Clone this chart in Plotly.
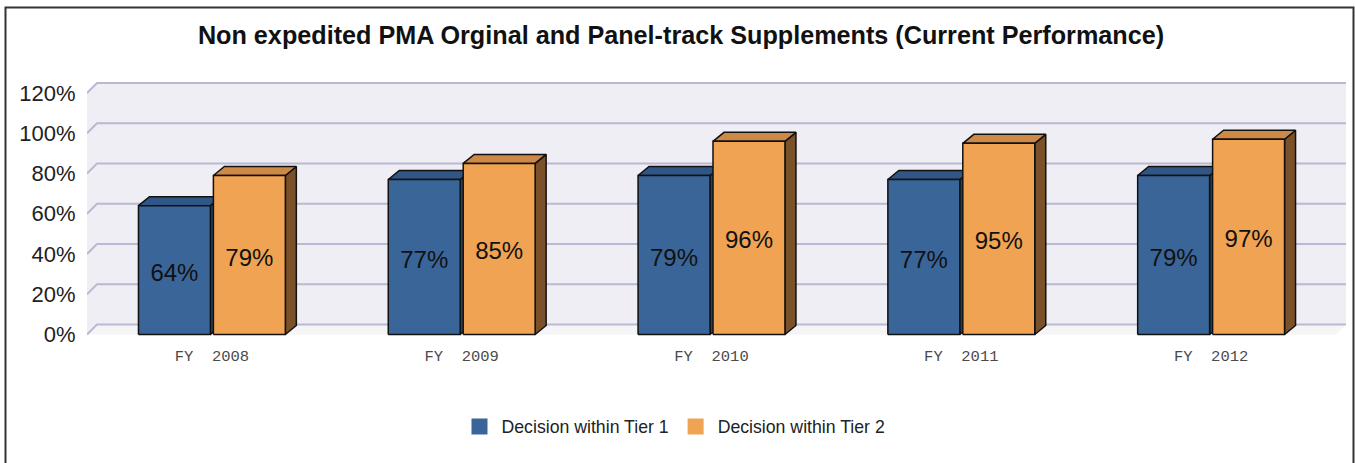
import plotly.graph_objects as go

# ---------------- data ----------------
years = ["FY\u00a0\u00a02008", "FY\u00a0\u00a02009", "FY\u00a0\u00a02010", "FY\u00a0\u00a02011", "FY\u00a0\u00a02012"]
tier1 = [64, 77, 79, 77, 79]
tier2 = [79, 85, 96, 95, 97]
series_names = ["Decision within Tier 1", "Decision within Tier 2"]
y_ticks = [0, 20, 40, 60, 80, 100, 120]
title_text = "Non expedited PMA Orginal and Panel-track Supplements (Current Performance)"

# ---------------- style ----------------
FONT = "Liberation Sans, Arial, sans-serif"
MONO = "Liberation Mono, Courier New, monospace"
colors = {
    0: dict(front="#3A6598", top="#2F5686", side="#24446B"),
    1: dict(front="#F0A352", top="#CD8945", side="#7A5129"),
}
WALL = "#EFEEF4"
FLOOR = "#F5F5F8"
GRID = "#B9B9D1"

# page geometry (px)
W, H = 1355, 463
ML, MR, MT, MB = 87, 9, 80, 127
plot_w = W - ML - MR
plot_h = H - MT - MB

# axes ranges
x_lo, x_hi = -0.5, 4.54
px_per_x = plot_w / (x_hi - x_lo)
px_per_y = 40.25 / 20.0
y_lo = -(1.5) / px_per_y
y_hi = y_lo + plot_h / px_per_y

# 3D depth
wall_dx, wall_dy = 10 / px_per_x, 10 / px_per_y
bar_dx, bar_dy = 11 / px_per_x, 9 / px_per_y
offset, half = 0.15, 0.144
label_shift = 4.5 / px_per_y  # labels sit slightly below bar middle

fig = go.Figure()

def faces(vals, sign):
    front_x, front_y, top_x, top_y, side_x, side_y = [], [], [], [], [], []
    for i, v in enumerate(vals):
        c = i + sign * offset
        xl, xr = c - half, c + half
        front_x += [xl, xr, xr, xl, xl, None]
        front_y += [0, 0, v, v, 0, None]
        top_x += [xl, xr, xr + bar_dx, xl + bar_dx, xl, None]
        top_y += [v, v, v + bar_dy, v + bar_dy, v, None]
        side_x += [xr, xr + bar_dx, xr + bar_dx, xr, xr, None]
        side_y += [0, bar_dy, v + bar_dy, v, 0, None]
    return (front_x, front_y), (top_x, top_y), (side_x, side_y)

for k, (vals, sign) in enumerate([(tier1, -1), (tier2, 1)]):
    (fx, fy), (tx, ty), (sx, sy) = faces(vals, sign)
    col = colors[k]
    for (xx, yy, fc) in [(sx, sy, col["side"]), (tx, ty, col["top"]), (fx, fy, col["front"])]:
        fig.add_trace(go.Scatter(
            x=xx, y=yy, mode="lines", fill="toself", fillcolor=fc,
            line=dict(color="#111111", width=1.5), hoverinfo="skip",
            showlegend=False))

# value labels
for vals, sign in [(tier1, -1), (tier2, 1)]:
    fig.add_trace(go.Scatter(
        x=[i + sign * offset for i in range(len(vals))],
        y=[v / 2 - label_shift for v in vals],
        mode="text", text=[f"{v}%" for v in vals],
        textfont=dict(family=FONT, size=24, color="#111111"),
        hoverinfo="skip", showlegend=False))

# legend entries
for k, name in enumerate(series_names):
    fig.add_trace(go.Scatter(
        x=[None], y=[None], mode="markers", name=name,
        marker=dict(symbol="square", size=16, color=colors[k]["front"],
                    line=dict(width=0))))

shapes = []
# left wall
shapes.append(dict(type="path", xref="x", yref="y", layer="below",
                   path=f"M {x_lo},{0} L {x_lo},{y_ticks[-1]} L {x_lo + wall_dx},{y_ticks[-1] + wall_dy} L {x_lo + wall_dx},{wall_dy} Z",
                   fillcolor=WALL, line=dict(width=0)))
# back wall
shapes.append(dict(type="rect", xref="x", yref="y", layer="below",
                   x0=x_lo + wall_dx, x1=4.5 + wall_dx, y0=wall_dy, y1=y_ticks[-1] + wall_dy,
                   fillcolor=WALL, line=dict(width=0)))
# floor
shapes.append(dict(type="path", xref="x", yref="y", layer="below",
                   path=f"M {x_lo},0 L 4.5,0 L {4.5 + wall_dx},{wall_dy} L {x_lo + wall_dx},{wall_dy} Z",
                   fillcolor=FLOOR, line=dict(width=0)))
# grid lines
for t in y_ticks:
    shapes.append(dict(type="path", xref="x", yref="y", layer="below",
                       path=f"M {x_lo},{t} L {x_lo + wall_dx},{t + wall_dy} L {4.5 + wall_dx},{t + wall_dy}",
                       line=dict(color=GRID, width=2)))
# outer frame (paper coords from px)
def px2paper_x(px):
    return (px - ML) / plot_w
def px2paper_y(py):
    return (H - MB - py) / plot_h
shapes.append(dict(type="rect", xref="paper", yref="paper",
                   x0=px2paper_x(5.5), x1=px2paper_x(1353.5), y0=px2paper_y(480), y1=px2paper_y(7.5),
                   line=dict(color="#333333", width=2), fillcolor="rgba(0,0,0,0)"))

fig.update_layout(
    width=W, height=H,
    margin=dict(l=ML, r=MR, t=MT, b=MB),
    paper_bgcolor="white", plot_bgcolor="white",
    shapes=shapes,
    title=dict(text=f"<b>{title_text}</b>", x=681 / W, xref="container", xanchor="center",
               y=1 - 35 / H, yref="container", yanchor="middle",
               font=dict(family=FONT, size=25.2, color="#111111")),
    xaxis=dict(range=[x_lo, x_hi], tickvals=list(range(len(years))), ticktext=years,
               showgrid=False, zeroline=False, showline=False,
               ticks="outside", ticklen=5, tickcolor="rgba(0,0,0,0)",
               tickfont=dict(family=MONO, size=15.5, color="#4A4A4A"), fixedrange=True),
    yaxis=dict(range=[y_lo, y_hi], tickvals=y_ticks, ticktext=[f"{t}%" for t in y_ticks],
               showgrid=False, zeroline=False, showline=False,
               ticks="outside", ticklen=6, tickcolor="rgba(0,0,0,0)",
               tickfont=dict(family=FONT, size=22, color="#222222"), fixedrange=True),
    legend=dict(orientation="h", x=px2paper_x(674),
                xanchor="center", y=px2paper_y(427), yanchor="middle",
                font=dict(family=FONT, size=17.7, color="#222222"), itemwidth=34,
                bgcolor="rgba(0,0,0,0)"),
    showlegend=True,
)

fig.write_html("out.html", config={"displayModeBar": False},
               post_script="document.body.style.margin='0px';")
